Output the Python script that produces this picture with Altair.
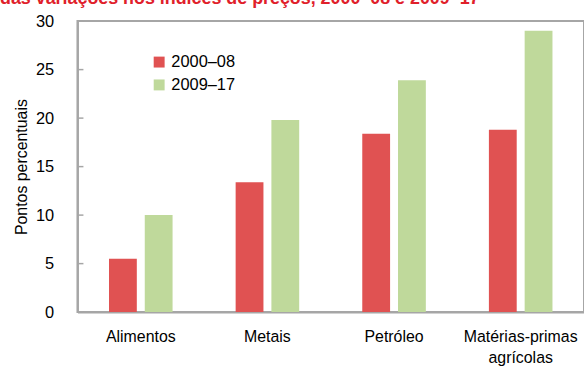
import altair as alt
import pandas as pd

categories = ["Alimentos", "Metais", "Petróleo", "Matérias-primas agrícolas"]
periods = ["2000–08", "2009–17"]
values_2000_08 = [5.5, 13.4, 18.4, 18.8]
values_2009_17 = [10.0, 19.8, 23.9, 29.0]
tick_values = [0, 5, 10, 15, 20, 25, 30]
title_text = "das variações nos índices de preços, 2000–08 e 2009–17"

rows = []
for c, a, b in zip(categories, values_2000_08, values_2009_17):
    rows.append({"cat": c, "period": periods[0], "value": a})
    rows.append({"cat": c, "period": periods[1], "value": b})
df = pd.DataFrame(rows)

FONT = "Liberation Sans, Arial, sans-serif"
GRAY = "#A6A6A6"

bars = alt.Chart(df).mark_bar().encode(
    x=alt.X("cat:N", sort=categories, title=None,
            scale=alt.Scale(paddingInner=0, paddingOuter=0),
            axis=alt.Axis(labelAngle=0, ticks=False, domainColor=GRAY, domainWidth=2,
                          labelFont=FONT, labelFontSize=16, labelColor="#000",
                          labelPadding=17, labelLineHeight=21,
                          labelExpr="datum.label == 'Matérias-primas agrícolas' ? ['Matérias-primas', 'agrícolas'] : datum.label")),
    xOffset=alt.XOffset("period:N", sort=periods,
                        scale=alt.Scale(paddingInner=0.2222, paddingOuter=0.882)),
    y=alt.Y("value:Q", title="Pontos percentuais",
            scale=alt.Scale(domain=[0, 30], nice=False),
            axis=alt.Axis(values=tick_values, ticks=False, grid=False,
                          domainColor=GRAY, domainWidth=2,
                          labelFont=FONT, labelFontSize=16.5, labelColor="#000",
                          labelPadding=24,
                          titleFont=FONT, titleFontSize=16, titleFontWeight="normal",
                          titleColor="#000", titlePadding=6)),
    color=alt.Color("period:N", sort=periods,
                    scale=alt.Scale(domain=periods, range=["#E05252", "#BFD99B"]),
                    legend=alt.Legend(title=None, orient="none", legendX=74, legendY=33,
                                      symbolType="square", symbolSize=121,
                                      symbolStrokeWidth=0, labelFont=FONT,
                                      labelFontSize=16.5, labelColor="#000",
                                      labelOffset=4, rowPadding=6)),
)

tick_df = pd.DataFrame({"v": tick_values})
ticks = alt.Chart(tick_df).mark_rule(color=GRAY, strokeWidth=1.5).encode(
    y=alt.Y("v:Q"),
    x=alt.value(0),
    x2=alt.value(6),
)

title_df = pd.DataFrame({"t": [title_text]})
title = alt.Chart(title_df).mark_text(
    align="left", baseline="alphabetic", font="Liberation Sans", fontWeight="bold",
    fontSize=18, color="#E0202A"
).encode(text="t:N", x=alt.value(-78), y=alt.value(-17))

chart = alt.layer(bars, ticks, title).properties(
    width=510, height=293,
    padding={"left": 78, "top": 20, "right": 0, "bottom": 53},
    autosize=alt.AutoSizeParams(type="none"),
).configure_view(stroke=GRAY, strokeWidth=2)

chart.save("out.html", embed_options={"renderer": "svg", "actions": False})
